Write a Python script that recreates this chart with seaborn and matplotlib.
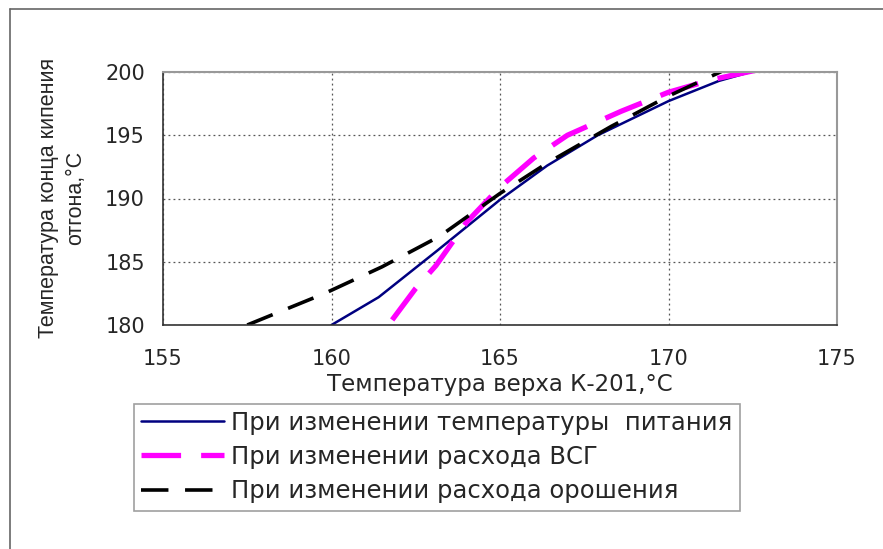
import matplotlib
matplotlib.use("Agg")
import matplotlib.pyplot as plt
import seaborn as sns
import pandas as pd
from matplotlib.lines import Line2D

# Data
feed_x = [160.0, 161.4, 163.1, 165.0, 166.4, 167.9, 170.0, 171.5, 172.7]
feed_y = [180.0, 182.2, 185.8, 189.9, 192.6, 195.0, 197.7, 199.3, 200.2]

vsg_x = [161.8, 162.5, 163.1, 164.0, 165.0, 166.0, 167.0, 168.6, 170.0, 171.3, 172.7]
vsg_y = [180.4, 182.9, 184.7, 188.1, 190.9, 193.2, 195.0, 196.9, 198.4, 199.4, 200.2]

refl_x = [157.5, 159.8, 161.5, 163.2, 165.0, 166.4, 168.3, 170.0, 171.7]
refl_y = [180.0, 182.5, 184.6, 187.0, 190.4, 192.8, 195.7, 198.1, 200.2]

labels = ["При изменении температуры  питания",
          "При изменении расхода ВСГ",
          "При изменении расхода орошения"]
x_ticks = [155, 160, 165, 170, 175]
y_ticks = [180, 185, 190, 195, 200]

sns.set_style("white")
plt.rcParams['font.family'] = ['DejaVu Sans']

BLUE, MAG, BLK = "#000080", "#FF00FF", "#000000"
LW_B, LW_M, LW_K = 1.8, 3.8, 2.6
DASH_M, DASH_K = [7.5, 3.8], [7.6, 4.6]

fig = plt.figure(figsize=(8.83, 5.49), dpi=100)
ax = fig.add_axes([163/883, 1-325/549, (837-163)/883, (325-72)/549])

sns.lineplot(x=feed_x, y=feed_y, ax=ax, color=BLUE, lw=LW_B)
sns.lineplot(x=vsg_x, y=vsg_y, ax=ax, color=MAG, lw=LW_M)
sns.lineplot(x=refl_x, y=refl_y, ax=ax, color=BLK, lw=LW_K)
lines = ax.get_lines()
lines[1].set_dashes(DASH_M)
lines[2].set_dashes(DASH_K)
lines[1].set_dash_capstyle('butt')
lines[2].set_dash_capstyle('butt')

ax.set_xlim(155, 175)
ax.set_ylim(180, 200)
ax.set_xticks(x_ticks)
ax.set_yticks(y_ticks)
ax.set_xticklabels([str(t) for t in x_ticks], fontsize=15)
ax.set_yticklabels([str(t) for t in y_ticks], fontsize=15)
ax.tick_params(axis='both', direction='out', length=6, width=1, color='#333333')
ax.tick_params(axis='y', pad=7)
ax.tick_params(axis='x', pad=11)
ax.grid(True, linestyle=(0, (1.5, 2.5)), color='#555555', lw=0.9)

for s in ['left', 'bottom']:
    ax.spines[s].set_color('#333333')
    ax.spines[s].set_linewidth(1.2)
for s in ['top', 'right']:
    ax.spines[s].set_color('#999999')
    ax.spines[s].set_linewidth(1.5)

ax.set_xlabel("Температура верха К-201,°C", fontsize=16.5, labelpad=3)
ax.set_ylabel("")
fig.text(62/883, 1-198/549, "Температура конца кипения\nотгона,°C", rotation=90,
         ha='center', va='center', fontsize=15.5,
         family=['Liberation Sans Narrow', 'Liberation Sans', 'DejaVu Sans'],
         linespacing=1.4)

handles = [Line2D([], [], color=BLUE, lw=LW_B),
           Line2D([], [], color=MAG, lw=LW_M, dashes=DASH_M, dash_capstyle='butt'),
           Line2D([], [], color=BLK, lw=LW_K, dashes=DASH_K, dash_capstyle='butt')]
leg = fig.legend(handles, labels, loc='center', bbox_to_anchor=(437/883, 1-457/549),
                 fontsize=17.5, frameon=True, fancybox=False, edgecolor='#888888',
                 handlelength=3.4, handletextpad=0.3, labelspacing=0.42,
                 borderpad=0.3, borderaxespad=0)
leg.get_frame().set_linewidth(1.2)

# outer chart border (top and left visible)
fig.add_artist(Line2D([10/883, 10/883], [0, 1-9/549], transform=fig.transFigure, color='#666666', lw=1.2))
fig.add_artist(Line2D([10/883, 1], [1-9/549, 1-9/549], transform=fig.transFigure, color='#666666', lw=1.2))

fig.savefig("out.png", dpi=100)
